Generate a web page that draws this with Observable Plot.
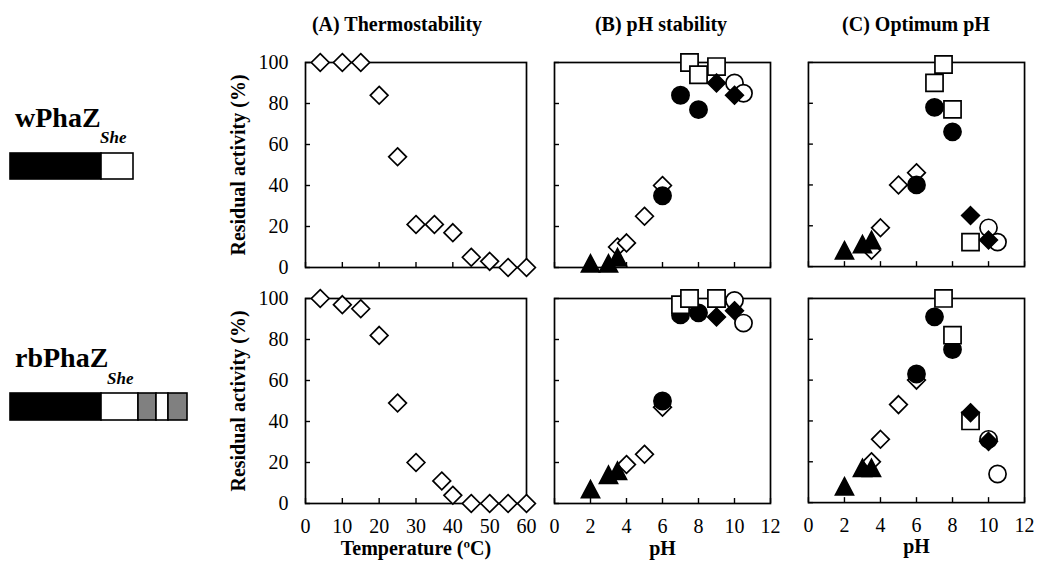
<!DOCTYPE html>
<html><head><meta charset="utf-8">
<script src="https://cdn.jsdelivr.net/npm/d3@7"></script>
<script src="https://cdn.jsdelivr.net/npm/@observablehq/plot@0.6"></script>
<style>
body{margin:0;background:#fff;}
#root{position:relative;width:1038px;height:562px;overflow:hidden;font-family:"Liberation Serif","Times New Roman",serif;color:#000;background:#fff;}
.abs{position:absolute;line-height:1;white-space:nowrap;}
.abs svg{overflow:visible;}
</style></head><body><div id="root"></div>
<script>
// ---------- text ----------
const panelTitles = ["(A) Thermostability", "(B) pH stability", "(C) Optimum pH"];
const constructNames = ["wPhaZ", "rbPhaZ"];
const constructSub = "She";
const yLabel = "Residual activity (%)";
const xLabels = ["Temperature (ºC)", "pH", "pH"];

// ---------- ticks ----------
const yTicks = [0, 20, 40, 60, 80, 100];
const tempTicks = [0, 10, 20, 30, 40, 50, 60];
const pHTicks = [0, 2, 4, 6, 8, 10, 12];

// ---------- construct domain lengths (relative) ----------
const wSegLengths = [91, 32];
const wSegKinds = ["catalytic", "linker"];
const rbSegLengths = [91, 37, 18, 12, 19];
const rbSegKinds = ["catalytic", "linker", "binding", "linker", "binding"];

// ---------- (A) thermostability ----------
const thermoTemp_w = [4, 10, 15, 20, 25, 30, 35, 40, 45, 50, 55, 60];
const thermoAct_w = [100, 100, 100, 84, 54, 21, 21, 17, 5, 3, 0, 0];
const thermoTemp_rb = [4, 10, 15, 20, 25, 30, 37, 40, 45, 50, 55, 60];
const thermoAct_rb = [100, 97, 95, 82, 49, 20, 11, 4, 0, 0, 0, 0];

// ---------- (B) pH stability, wPhaZ: [pH, activity] ----------
const stabW_triangle = [[2, 2], [3, 2], [3.5, 5]];
const stabW_openDiamond = [[3.5, 10], [4, 12], [5, 25], [6, 40]];
const stabW_filledCircle = [[6, 35], [7, 84], [8, 77]];
const stabW_square = [[7.5, 100], [8, 94], [9, 98]];
const stabW_openCircle = [[10, 90], [10.5, 85]];
const stabW_filledDiamond = [[9, 90], [10, 84]];

// ---------- (B) pH stability, rbPhaZ ----------
const stabRb_triangle = [[2, 7], [3, 14], [3.5, 16]];
const stabRb_openDiamond = [[4, 19], [5, 24], [6, 47]];
const stabRb_filledCircle = [[6, 50], [7, 92], [8, 93]];
const stabRb_square = [[7, 97], [7.5, 100], [9, 100]];
const stabRb_openCircle = [[10, 99], [10.5, 88]];
const stabRb_filledDiamond = [[9, 91], [10, 94]];

// ---------- (C) optimum pH, wPhaZ ----------
const optW_triangle = [[2, 8], [3, 11], [3.5, 13]];
const optW_openDiamond = [[3.5, 8], [4, 19], [5, 40], [6, 46]];
const optW_filledCircle = [[6, 40], [7, 78], [8, 66]];
const optW_square = [[7, 90], [7.5, 99], [8, 77], [9, 12]];
const optW_openCircle = [[10, 19], [10.5, 12]];
const optW_filledDiamond = [[9, 25], [10, 13]];

// ---------- (C) optimum pH, rbPhaZ ----------
const optRb_triangle = [[2, 8], [3, 17], [3.5, 17]];
const optRb_openDiamond = [[3.5, 20], [4, 31], [5, 48], [6, 60]];
const optRb_filledCircle = [[6, 63], [7, 91], [8, 75]];
const optRb_square = [[7.5, 100], [8, 82], [9, 40]];
const optRb_openCircle = [[10, 31], [10.5, 14]];
const optRb_filledDiamond = [[9, 44], [10, 30]];

// ---------- symbols (centered on bounding box, like spreadsheet markers) ----------
const half = (size) => Math.sqrt(size / Math.PI);
const symSquare = {draw(c, s) { const r = half(s); c.moveTo(-r, -r); c.lineTo(r, -r); c.lineTo(r, r); c.lineTo(-r, r); c.closePath(); }};
const symDiamond = {draw(c, s) { const r = half(s) * 1.03; c.moveTo(0, -r); c.lineTo(r, 0); c.lineTo(0, r); c.lineTo(-r, 0); c.closePath(); }};
const symTriangle = {draw(c, s) { const r = half(s); c.moveTo(0, -r); c.lineTo(r * 1.05, r); c.lineTo(-r * 1.05, r); c.closePath(); }};

const styles = {
  openDiamond: {symbol: symDiamond, fill: "white"},
  triangle: {symbol: symTriangle, fill: "black"},
  filledCircle: {symbol: "circle", fill: "black"},
  square: {symbol: symSquare, fill: "white"},
  openCircle: {symbol: "circle", fill: "white"},
  filledDiamond: {symbol: symDiamond, fill: "black"}
};

const root = document.getElementById("root");
const FONT = '"Liberation Serif", "Times New Roman", serif';

function place(el, left, top) {
  const d = document.createElement("div");
  d.className = "abs";
  d.style.left = left + "px";
  d.style.top = top + "px";
  d.appendChild(el);
  root.appendChild(d);
  return d;
}
function label(text, left, top, css) {
  const d = document.createElement("div");
  d.className = "abs";
  d.style.left = left + "px";
  d.style.top = top + "px";
  d.style.cssText += css;
  d.textContent = text;
  root.appendChild(d);
  return d;
}

// layout of frames (px)
const cols = [{x0: 305, x1: 526}, {x0: 554, x1: 770}, {x0: 808, x1: 1025}];
const rows = [{y0: 62, y1: 267}, {y0: 298, y1: 503}];

function dotsFrom(layers) {
  return layers.map(([data, key]) => Plot.dot(data, {
    x: d => d[0], y: d => d[1], r: 8.6,
    symbol: styles[key].symbol, fill: styles[key].fill,
    stroke: "black", strokeWidth: 1.7
  }));
}

function panel(col, row, xDomain, xTicks, layers) {
  const ml = col === 0 ? 60 : 14, mr = 14, mt = 12, mb = row === 1 ? 62 : 12;
  const fw = cols[col].x1 - cols[col].x0, fh = rows[row].y1 - rows[row].y0;
  const p = Plot.plot({
    width: ml + fw + mr, height: mt + fh + mb,
    marginLeft: ml, marginRight: mr, marginTop: mt, marginBottom: mb,
    style: {fontFamily: FONT, fontSize: "20px", color: "black", background: "transparent", overflow: "visible"},
    x: {domain: xDomain, label: null},
    y: {domain: [0, 100], label: null},
    marks: [
      Plot.axisY({ticks: yTicks, tickSize: -5, tickPadding: 22, strokeWidth: 1.4, label: null,
        tickFormat: col === 0 ? d => String(d) : () => ""}),
      Plot.axisX({ticks: xTicks, tickSize: -5, tickPadding: 20, strokeWidth: 1.4, label: null,
        tickFormat: row === 1 ? d => String(d) : () => ""}),
      Plot.frame({stroke: "black", strokeWidth: 1.7}),
      ...dotsFrom(layers),
      row === 1 ? Plot.text([xLabels[col]], {text: d => d, frameAnchor: "bottom", dy: 51, fontWeight: "bold", fontSize: 20}) : null
    ]
  });
  place(p, cols[col].x0 - ml, rows[row].y0 - mt);
  if (col === 0) {
    const cy = (rows[row].y0 + rows[row].y1) / 2;
    label(yLabel, 237 - 150, cy - 10,
      `width:300px;height:20px;text-align:center;font:bold 20px ${FONT};transform:rotate(-90deg);transform-origin:50% 50%;`);
  }
}

function construct(lengths, kinds, top, h) {
  let acc = 0;
  const segs = lengths.map((len, i) => { const s = {s: acc, e: acc + len, kind: kinds[i]}; acc += len; return s; });
  const fillFor = {catalytic: "black", linker: "white", binding: "#808080"};
  const p = Plot.plot({
    width: 220, height: h + 4, marginTop: 2, marginBottom: 2, marginLeft: 0, marginRight: 0,
    style: {background: "transparent", overflow: "visible"},
    x: {domain: [0, 220], range: [10, 230], axis: null},
    color: {type: "identity"},
    marks: [Plot.rect(segs, {x1: "s", x2: "e", fill: d => fillFor[d.kind], stroke: "black", strokeWidth: 1.6})]
  });
  place(p, 0, top - 2);
}

// titles
const titleCenters = [397, 661, 916];
panelTitles.forEach((t, i) => {
  label(t, titleCenters[i] - 150, 13, `width:300px;text-align:center;font:bold 20px ${FONT};`);
});

// construct names
label(constructNames[0], 15, 101.5, `font:bold 28px ${FONT};`);
label(constructSub, 100, 128, `font:italic bold 17px ${FONT};`);
construct(wSegLengths, wSegKinds, 153, 26);
label(constructNames[1], 15, 341.5, `font:bold 28px ${FONT};`);
label(constructSub, 107, 369, `font:italic bold 17px ${FONT};`);
construct(rbSegLengths, rbSegKinds, 393, 27);

// panels
panel(0, 0, [0, 60], tempTicks, [[thermoTemp_w.map((t, i) => [t, thermoAct_w[i]]), "openDiamond"]]);
panel(0, 1, [0, 60], tempTicks, [[thermoTemp_rb.map((t, i) => [t, thermoAct_rb[i]]), "openDiamond"]]);
panel(1, 0, [0, 12], pHTicks, [
  [stabW_openDiamond, "openDiamond"], [stabW_triangle, "triangle"], [stabW_filledCircle, "filledCircle"],
  [stabW_square, "square"], [stabW_openCircle, "openCircle"], [stabW_filledDiamond, "filledDiamond"]]);
panel(1, 1, [0, 12], pHTicks, [
  [stabRb_openDiamond, "openDiamond"], [stabRb_triangle, "triangle"], [stabRb_filledCircle, "filledCircle"],
  [stabRb_square, "square"], [stabRb_openCircle, "openCircle"], [stabRb_filledDiamond, "filledDiamond"]]);
panel(2, 0, [0, 12], pHTicks, [
  [optW_openDiamond, "openDiamond"], [optW_triangle, "triangle"], [optW_filledCircle, "filledCircle"],
  [optW_square, "square"], [optW_openCircle, "openCircle"], [optW_filledDiamond, "filledDiamond"]]);
panel(2, 1, [0, 12], pHTicks, [
  [optRb_openDiamond, "openDiamond"], [optRb_triangle, "triangle"], [optRb_filledCircle, "filledCircle"],
  [optRb_square, "square"], [optRb_openCircle, "openCircle"], [optRb_filledDiamond, "filledDiamond"]]);
</script></body></html>
